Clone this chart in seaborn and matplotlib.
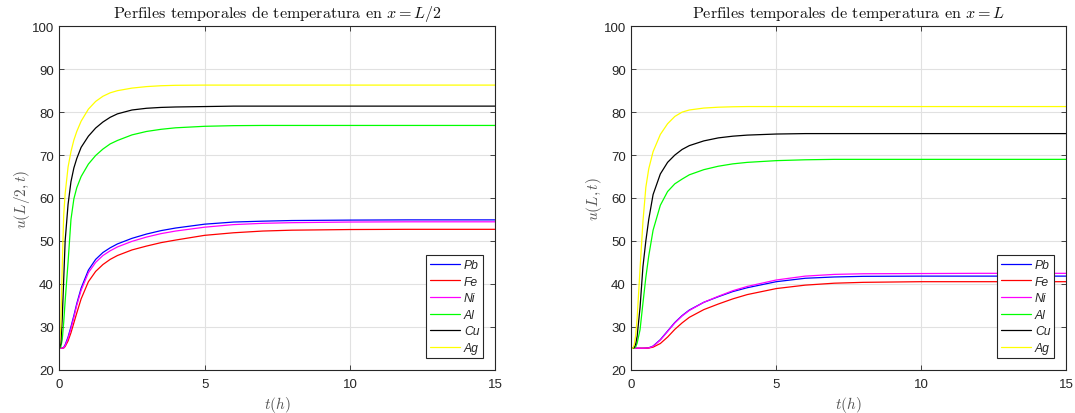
import matplotlib
matplotlib.use("Agg")
import matplotlib.pyplot as plt
import seaborn as sns
import pandas as pd

# ---------------- data ----------------
t_hours = [0, 0.05, 0.1, 0.15, 0.2, 0.3, 0.4, 0.5, 0.6, 0.75, 1.0, 1.25, 1.5,
           1.75, 2.0, 2.5, 3.0, 3.5, 4.0, 5.0, 6.0, 7.0, 8.0, 10.0, 12.0, 15.0]

materials = ["Pb", "Fe", "Ni", "Al", "Cu", "Ag"]
colors = ["#0000ff", "#ff0000", "#ff00ff", "#00ff00", "#000000", "#ffff00"]

# u(L/2, t)
mid_Pb = [25, 25, 25, 25.2, 25.8, 27.6, 30.0, 32.6, 35.4, 39.0, 43.2, 45.7, 47.3,
          48.4, 49.3, 50.6, 51.6, 52.4, 53.0, 53.9, 54.4, 54.6, 54.75, 54.85, 54.9, 54.9]
mid_Fe = [25, 25, 25, 25.05, 25.4, 26.7, 28.6, 30.9, 33.2, 36.5, 40.5, 42.9, 44.5,
          45.7, 46.6, 47.9, 48.8, 49.6, 50.2, 51.3, 51.9, 52.3, 52.5, 52.65, 52.7, 52.7]
mid_Ni = [25, 25, 25, 25.1, 25.6, 27.3, 29.6, 32.2, 35.0, 38.5, 42.6, 45.0, 46.6,
          47.7, 48.6, 49.9, 50.9, 51.7, 52.3, 53.2, 53.8, 54.1, 54.25, 54.4, 54.45, 54.45]
mid_Al = [25, 25.3, 27, 31, 36, 45, 55.0, 59.8, 62.4, 65.0, 67.9, 69.9, 71.4,
          72.6, 73.4, 74.7, 75.5, 76.0, 76.35, 76.7, 76.85, 76.9, 76.9, 76.9, 76.9, 76.9]
mid_Cu = [25, 26, 32, 41, 50, 58.5, 63.8, 67.0, 69.2, 71.8, 74.4, 76.3, 77.7,
          78.8, 79.6, 80.5, 80.9, 81.1, 81.2, 81.3, 81.4, 81.4, 81.4, 81.4, 81.4, 81.4]
mid_Ag = [25, 30, 44, 56, 61, 67.2, 70.8, 73.5, 75.5, 77.9, 80.7, 82.5, 83.7,
          84.5, 85.0, 85.6, 85.95, 86.15, 86.25, 86.3, 86.3, 86.3, 86.3, 86.3, 86.3, 86.3]

# u(L, t)
end_Pb = [25, 25, 25, 25, 25, 25, 25, 25.03, 25.1, 25.5, 27.0, 29.0, 31.0,
          32.6, 33.9, 35.7, 37.0, 38.2, 39.1, 40.5, 41.3, 41.6, 41.75, 41.8, 41.8, 41.8]
end_Fe = [25, 25, 25, 25, 25, 25, 25, 25, 25.05, 25.25, 26.1, 27.6, 29.4,
          30.9, 32.2, 34.0, 35.3, 36.5, 37.5, 38.9, 39.7, 40.15, 40.35, 40.5, 40.5, 40.5]
end_Ni = [25, 25, 25, 25, 25, 25, 25, 25.02, 25.08, 25.45, 26.9, 28.9, 30.9,
          32.5, 33.8, 35.7, 37.1, 38.4, 39.4, 40.9, 41.8, 42.2, 42.35, 42.4, 42.45, 42.45]
end_Al = [25, 25, 25.05, 25.3, 26.2, 29.3, 35.5, 41.5, 46.5, 52.5, 58.3, 61.5, 63.3,
          64.4, 65.4, 66.6, 67.4, 67.95, 68.3, 68.7, 68.9, 69.0, 69.0, 69.0, 69.0, 69.0]
end_Cu = [25, 25, 25.2, 26, 27.8, 34.5, 44, 50, 55, 60.8, 65.6, 68.3, 70.0,
          71.3, 72.2, 73.3, 74.0, 74.4, 74.65, 74.9, 75.0, 75.0, 75.0, 75.0, 75.0, 75.0]
end_Ag = [25, 25, 25.8, 28, 32, 43.5, 54.5, 62.5, 66.8, 70.8, 74.8, 77.3, 79.0,
          80.0, 80.5, 80.95, 81.15, 81.25, 81.3, 81.3, 81.3, 81.3, 81.3, 81.3, 81.3, 81.3]

x_ticks = [0, 5, 10, 15]
y_ticks = [20, 30, 40, 50, 60, 70, 80, 90, 100]

titles = [r"Perfiles temporales de temperatura en $x = L/2$",
          r"Perfiles temporales de temperatura en $x = L$"]
ylabels = [r"$u(L/2,t)$", r"$u(L,t)$"]
xlabel = r"$t(h)$"


def long_frame(series):
    rows = []
    for name, vals in zip(materials, series):
        for t, v in zip(t_hours, vals):
            rows.append({"t": t, "u": v, "material": name})
    return pd.DataFrame(rows)


df_mid = long_frame([mid_Pb, mid_Fe, mid_Ni, mid_Al, mid_Cu, mid_Ag])
df_end = long_frame([end_Pb, end_Fe, end_Ni, end_Al, end_Cu, end_Ag])

# ---------------- styling ----------------
sns.set_theme(style="white")
plt.rcParams["font.family"] = ["Liberation Sans", "DejaVu Sans"]
plt.rcParams["mathtext.fontset"] = "cm"

dark = "#262626"
fig = plt.figure(figsize=(10.75, 4.14), dpi=100)
ax1 = fig.add_axes([0.0552, 0.1046, 0.4055, 0.8295])
ax2 = fig.add_axes([0.5873, 0.1046, 0.4045, 0.8295])

palette = dict(zip(materials, colors))

for ax, df, title, ylab in zip([ax1, ax2], [df_mid, df_end], titles, ylabels):
    sns.lineplot(data=df, x="t", y="u", hue="material", hue_order=materials,
                 palette=palette, linewidth=0.9, ax=ax, legend=True,
                 estimator=None, sort=True)
    ax.set_xlim(0, 15)
    ax.set_ylim(20, 100)
    ax.set_xticks(x_ticks)
    ax.set_yticks(y_ticks)
    ax.grid(True, color="#e1e1e1", linewidth=0.8)
    ax.set_axisbelow(True)
    for s in ax.spines.values():
        s.set_color(dark)
        s.set_linewidth(0.8)
        s.set_visible(True)
    ax.tick_params(direction="in", length=3.5, width=0.6, color=dark,
                   labelcolor=dark, labelsize=9.5, top=True, right=True,
                   bottom=True, left=True, pad=4)
    ax.tick_params(axis="x", pad=6)
    ax.set_title(title, fontfamily="cmr10", fontsize=11.6, color="#111111", pad=7)
    ax.set_xlabel(xlabel, fontsize=11, color="#555555", labelpad=3)
    ax.set_ylabel(ylab, fontsize=11, color="#555555", labelpad=0)
    sns.move_legend(ax, "lower right", title=None, frameon=True, fancybox=False,
                    framealpha=1, edgecolor=dark,
                    prop={"style": "italic", "size": 8.7},
                    handlelength=2.5, handletextpad=0.35, labelspacing=0.38,
                    borderpad=0.3, borderaxespad=1.0)
    leg = ax.get_legend()
    leg.get_frame().set_linewidth(0.8)
    for t in leg.get_texts():
        t.set_color(dark)

fig.savefig("out.png", dpi=100, facecolor="white")
